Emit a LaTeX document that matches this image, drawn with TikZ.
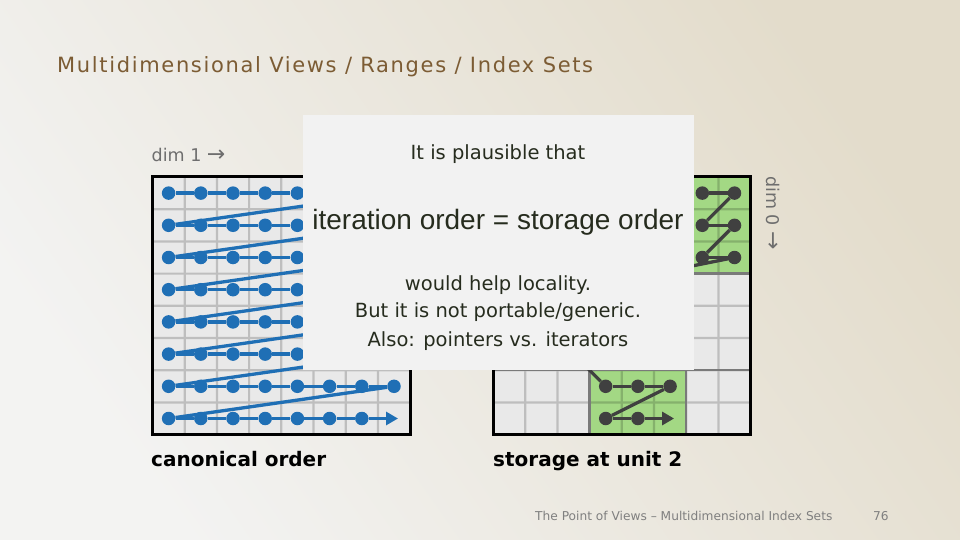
\documentclass[tikz,border=0pt]{standalone}
\usepackage{fontspec}
\setmainfont{DejaVu Sans}
\newfontfamily\arialf{Liberation Sans}
\newfontfamily\titlef[LetterSpace=7.9]{DejaVu Sans}
\usetikzlibrary{arrows.meta}
\definecolor{bgA}{HTML}{E3DCCB}
\definecolor{bgB}{HTML}{F3F3F2}
\definecolor{titlec}{HTML}{7C5C34}
\definecolor{cellc}{HTML}{E9E9E9}
\definecolor{greenc}{HTML}{A3D884}
\definecolor{blockc}{HTML}{7A7A7A}
\definecolor{bluec}{HTML}{1F6FB5}
\definecolor{darkc}{HTML}{404040}
\definecolor{popc}{HTML}{F2F2F2}
\definecolor{poptext}{HTML}{262C1E}
\definecolor{labelc}{HTML}{6E6E6E}
\definecolor{footc}{HTML}{7F7F7F}
\newcommand{\bigarrow}[1]{{\fontsize{22pt}{22pt}\selectfont #1}}
\begin{document}
\begin{tikzpicture}[x=1pt,y=-1pt,
  bdot/.style={circle,fill=bluec,inner sep=0pt,minimum size=13.5pt},
  ddot/.style={circle,fill=darkc,inner sep=0pt,minimum size=13.5pt},
  bline/.style={draw=bluec,line width=3.3pt},
  dline/.style={draw=darkc,line width=3.3pt},
  tipstyle/.style={-{Triangle[length=12pt,width=13pt]}},
  gline/.style={draw=black,line width=2.2pt},
  blockline/.style={draw=blockc,line width=2.5pt},
  frame/.style={draw=black,line width=3pt},
  poptxt/.style={text=poptext,inner sep=0pt,anchor=base,font=\fontsize{19.5pt}{23pt}\selectfont},
  dimlbl/.style={text=labelc,inner sep=0pt,font=\fontsize{17.5pt}{21pt}\selectfont},
  caption/.style={text=black,inner sep=0pt,anchor=base west,font=\fontsize{20pt}{24pt}\selectfont\bfseries},
  foot/.style={text=footc,inner sep=0pt,anchor=base west,font=\fontsize{12.2pt}{14pt}\selectfont}]
\useasboundingbox (0,0) rectangle (960,540);
% background
\shade[shading=axis,top color=bgA,bottom color=bgB,shading angle=-55] (0,0) rectangle (960,540);
% title
\node[text=titlec,inner sep=0pt,anchor=base west,font=\titlef\fontsize{21pt}{25pt}\selectfont] (title) at (57,73) {Multidimensional Views / Ranges / Index Sets};
% ---------- left grid ----------
\fill[cellc] (152.5,177) rectangle ++(257.6,257.6);
\begin{scope}[transparency group,opacity=0.18]
\foreach \k in {1,...,7} {
  \draw[gline] ({152.5+\k*32.2},177) -- ++(0,257.6);
  \draw[gline] (152.5,{177+\k*32.2}) -- ++(257.6,0);
}
\end{scope}
\draw[frame] (152.5,177) rectangle ++(257.6,257.6);
\foreach \r in {0,...,7} {
  \foreach \c in {0,...,7} {
    \ifnum\numexpr\r*10+\c\relax=77
      \coordinate (L\c-\r) at ({152.5+(\c+0.5)*32.2+4},{177+(\r+0.5)*32.2});
    \else
      \node[bdot] (L\c-\r) at ({152.5+(\c+0.5)*32.2},{177+(\r+0.5)*32.2}) {};
    \fi
  }
}
\foreach \r in {0,...,7} {
  \foreach \c in {0,...,5} {
    \pgfmathtruncatemacro{\n}{\c+1}
    \draw[bline] (L\c-\r) -- (L\n-\r);
  }
}
\foreach \r in {0,...,6} {
  \pgfmathtruncatemacro{\m}{\r+1}
  \draw[bline] (L6-\r) -- (L7-\r);
  \draw[bline] (L7-\r) -- (L0-\m);
}
\draw[bline,tipstyle] (L6-7) -- (L7-7);
% ---------- right grid ----------
\fill[cellc] (493,177) rectangle ++(257.6,257.6);
\fill[greenc] ({493+6*32.2},177) rectangle ++(64.4,96.6);
\fill[greenc] ({493+3*32.2},{177+6*32.2}) rectangle ++(96.6,64.4);
\begin{scope}[transparency group,opacity=0.18]
\foreach \k in {1,...,7} {
  \draw[gline] ({493+\k*32.2},177) -- ++(0,257.6);
  \draw[gline] (493,{177+\k*32.2}) -- ++(257.6,0);
}
\end{scope}
\draw[blockline] ({493+3*32.2},177) -- ++(0,257.6);
\draw[blockline] ({493+6*32.2},177) -- ++(0,257.6);
\draw[blockline] (493,{177+3*32.2}) -- ++(257.6,0);
\draw[blockline] (493,{177+6*32.2}) -- ++(257.6,0);
\draw[frame] (493,177) rectangle ++(257.6,257.6);
\foreach \c/\r in {6/0,7/0,6/1,7/1,6/2,7/2,3/6,4/6,5/6,3/7,4/7} {
  \node[ddot] (R\c-\r) at ({493+(\c+0.5)*32.2},{177+(\r+0.5)*32.2}) {};
}
\coordinate (R5-7) at ({493+5.5*32.2+4},{177+7.5*32.2});
\coordinate (H1) at ({493+2.5*32.2},{177+3.5*32.2});
\coordinate (H2) at ({493+2.5*32.2},{177+5.5*32.2});
\draw[dline] (R6-0) -- (R7-0);
\draw[dline] (R7-0) -- (R6-1);
\draw[dline] (R6-1) -- (R7-1);
\draw[dline] (R7-1) -- (R6-2);
\draw[dline] (R6-2) -- (R7-2);
\draw[dline] (R7-2) -- (H1);
\draw[dline] (H2) -- (R3-6);
\draw[dline] (R3-6) -- (R4-6);
\draw[dline] (R4-6) -- (R5-6);
\draw[dline] (R5-6) -- (R3-7);
\draw[dline] (R3-7) -- (R4-7);
\draw[dline,tipstyle] (R4-7) -- (R5-7);
% ---------- popup ----------
\fill[popc] (303,115) rectangle (694,370);
\node[poptxt] (p1) at (498,160) {It is plausible that};
\node[poptxt,font=\arialf\fontsize{28pt}{32pt}\selectfont] (p2) at (498,229) {iteration order = storage order};
\node[poptxt] (p3) at (498,290) {would help locality.};
\node[poptxt] (p4) at (498,317.5) {But it is not portable/generic.};
\node[poptxt] (p5) at (498,346) {Also: pointers vs. iterators};
% ---------- labels ----------
\node[dimlbl,anchor=base west] (dim1) at (151.5,161.5) {dim 1 \bigarrow{→}};
\node[dimlbl,rotate=-90,anchor=center] (dim0) at (773,213) {dim 0 \bigarrow{→}};
\node[caption] (cap1) at (151,466) {canonical order};
\node[caption] (cap2) at (493,466) {storage at unit 2};
\node[foot] (foottxt) at (535,520) {The Point of Views – Multidimensional Index Sets};
\node[foot] (pagenum) at (873,520) {76};
\end{tikzpicture}
\end{document}
